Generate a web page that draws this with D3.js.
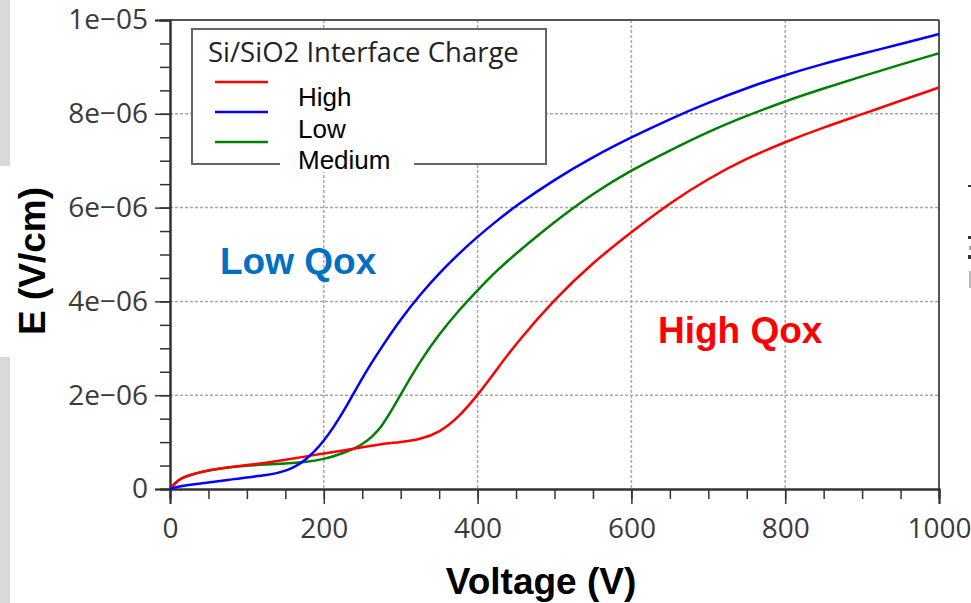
<!DOCTYPE html>
<html><head><meta charset="utf-8">
<script src="https://cdnjs.cloudflare.com/ajax/libs/d3/7.8.5/d3.min.js"></script>
<style>body{margin:0;background:#fff;}svg{display:block;}</style>
</head><body>
<svg id="c" width="971" height="603"></svg>
<script>
// ---- data ----
const voltage = [0,10,25,50,75,100,125,150,175,200,225,250,275,300,325,350,375,400,425,450,500,550,600,650,700,750,800,850,900,950,1000];
const eLow    = [0,0.05,0.09,0.14,0.19,0.25,0.29,0.37,0.58,1.0,1.62,2.38,3.02,3.62,4.14,4.60,5.01,5.38,5.72,6.04,6.60,7.08,7.50,7.89,8.24,8.55,8.83,9.07,9.28,9.49,9.70];
const eMedium = [0,0.2,0.3,0.40,0.46,0.50,0.52,0.54,0.57,0.63,0.76,0.93,1.28,2.02,2.72,3.30,3.80,4.24,4.66,5.02,5.70,6.30,6.80,7.22,7.62,7.96,8.27,8.54,8.80,9.05,9.29];
const eHigh   = [0,0.2,0.3,0.40,0.46,0.51,0.56,0.62,0.69,0.76,0.82,0.89,0.96,1.00,1.06,1.20,1.52,2.0,2.55,3.10,4.05,4.83,5.48,6.10,6.62,7.05,7.40,7.71,7.99,8.28,8.56];
const seriesNames = ["High","Low","Medium"];
const seriesColors = ["#ff0000","#0000ff","#008000"];
const xTicks = [0,200,400,600,800,1000];
const xTickLabels = ["0","200","400","600","800","1000"];
const yTicks = [0,2e-6,4e-6,6e-6,8e-6,1e-5];
const yTickLabels = ["0","2e\u221206","4e\u221206","6e\u221206","8e\u221206","1e\u221205"];
const legendTitle = "Si/SiO2 Interface Charge";
const xTitle = "Voltage (V)";
const yTitle = "E (V/cm)";
const notes = [{text:"Low Qox", color:"#0070c0"},{text:"High Qox", color:"#ff0000"}];

const seriesVals = [eHigh, eLow, eMedium];
const svg = d3.select("#c");
const L=170, R=939, T=20, B=489;
const x = d3.scaleLinear().domain([0,1000]).range([L,R]);
const y = d3.scaleLinear().domain([0,1e-5]).range([B,T]);

// left decorative gray bars (slide background)
svg.append("rect").attr("x",0).attr("y",0).attr("width",10).attr("height",166).attr("fill","#d9d9d9");
svg.append("rect").attr("x",0).attr("y",357).attr("width",10).attr("height",246).attr("fill","#d9d9d9");
// right edge fragments
[[968,185,3,2,"#333"],[968,236,3,3,"#333"],[969,246,2,4,"#aaa"],[968,255,3,4,"#333"],[969,271,2,17,"#bbb"]].forEach(r=>{
  svg.append("rect").attr("x",r[0]).attr("y",r[1]).attr("width",r[2]).attr("height",r[3]).attr("fill",r[4]);
});

// grid
const grid = svg.append("g");
xTicks.slice(1,-1).forEach(v=>grid.append("line").attr("x1",x(v)).attr("x2",x(v)).attr("y1",T).attr("y2",B)
  .attr("stroke","#a8a8a8").attr("stroke-width",1.5).attr("stroke-dasharray","3,2"));
yTicks.slice(1,-1).forEach(v=>grid.append("line").attr("x1",L).attr("x2",R).attr("y1",y(v)).attr("y2",y(v))
  .attr("stroke","#a8a8a8").attr("stroke-width",1.5).attr("stroke-dasharray","3,2"));

// frame top/right
svg.append("line").attr("x1",L).attr("x2",R).attr("y1",T).attr("y2",T).attr("stroke","#555").attr("stroke-width",2);
svg.append("line").attr("x1",R).attr("x2",R).attr("y1",T).attr("y2",B).attr("stroke","#555").attr("stroke-width",2);

// axes
const xMinor = d3.range(0,1001,50);
const yMinor = d3.range(0,21).map(i=>i*5e-7);
const xAx = svg.append("g").attr("transform",`translate(0,${B})`);
xAx.call(d3.axisBottom(x).tickValues(xMinor).tickSize(10).tickFormat(""));
xAx.append("g").call(d3.axisBottom(x).tickValues(xTicks).tickSize(15).tickFormat((d,i)=>xTickLabels[i]).tickPadding(14));
const yAx = svg.append("g").attr("transform",`translate(${L},0)`);
yAx.call(d3.axisLeft(y).tickValues(yMinor).tickSize(10).tickFormat(""));
yAx.append("g").call(d3.axisLeft(y).tickValues(yTicks).tickSize(15).tickFormat((d,i)=>yTickLabels[i]).tickPadding(7));
svg.selectAll(".domain").attr("stroke","#333").attr("stroke-width",2);
svg.selectAll(".tick line").attr("stroke","#333").attr("stroke-width",1.5);
svg.selectAll(".tick text").attr("font-family","'Open Sans'").attr("font-size",28).attr("fill","#3a3a3a");

// lines
const line = d3.line().x((d,i)=>x(voltage[i])).y(d=>y(d*1e-6)).curve(d3.curveBasis);
[2,0,1].forEach(k=>{
  svg.append("path").attr("d",line(seriesVals[k])).attr("fill","none")
    .attr("stroke",seriesColors[k]).attr("stroke-width",2.5);
});

// legend
const lg = svg.append("g");
lg.append("rect").attr("x",192).attr("y",29).attr("width",354).attr("height",135)
  .attr("fill","#fff").attr("stroke","#666").attr("stroke-width",2);
lg.append("text").attr("x",208).attr("y",62).text(legendTitle)
  .attr("font-family","'Open Sans'").attr("font-size",27.5).attr("fill","#222");
lg.append("rect").attr("x",280).attr("y",150).attr("width",134).attr("height",22).attr("fill","#fff");
seriesNames.forEach((n,i)=>{
  lg.append("line").attr("x1",215).attr("x2",268).attr("y1",82+i*30).attr("y2",82+i*30)
    .attr("stroke",seriesColors[i]).attr("stroke-width",2.5);
  lg.append("text").attr("x",298).attr("y",106+i*31.6).text(n)
    .attr("font-family","'Liberation Sans',Arial").attr("font-size",26).attr("fill","#000");
});

// annotations
svg.append("text").attr("x",220).attr("y",274).text(notes[0].text).attr("fill",notes[0].color)
  .attr("font-family","'Liberation Sans',Arial").attr("font-weight","bold").attr("font-size",37);
svg.append("text").attr("x",658).attr("y",343).text(notes[1].text).attr("fill",notes[1].color)
  .attr("font-family","'Liberation Sans',Arial").attr("font-weight","bold").attr("font-size",37);

// axis titles
svg.append("text").attr("x",541).attr("y",594).attr("text-anchor","middle").text(xTitle)
  .attr("font-family","'Liberation Sans',Arial").attr("font-weight","bold").attr("font-size",37).attr("fill","#000");
svg.append("text").attr("transform","translate(45,261) rotate(-90)").attr("text-anchor","middle").text(yTitle)
  .attr("font-family","'Liberation Sans',Arial").attr("font-weight","bold").attr("font-size",37).attr("fill","#000");
</script>
</body></html>
